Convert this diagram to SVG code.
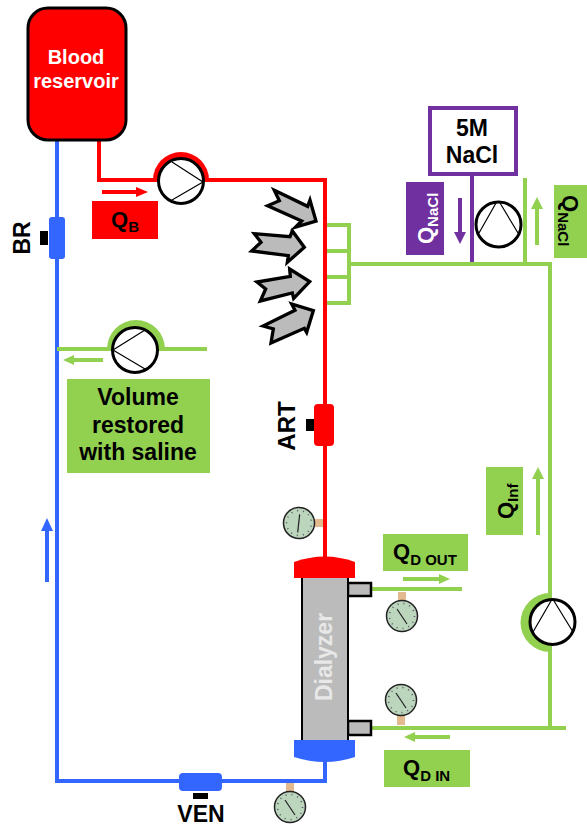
<svg xmlns="http://www.w3.org/2000/svg" width="587" height="827" viewBox="0 0 587 827">
<style>
text{font-family:"Liberation Sans",Arial,sans-serif;font-weight:bold;fill:#000}
.w{fill:#fff}
.c{text-anchor:middle}
.line{fill:none;stroke-linejoin:miter}
.red{stroke:#ff0000;stroke-width:4}
.blue{stroke:#3366ff;stroke-width:4}
.grn{stroke:#92d050;stroke-width:4}
.pur{stroke:#7030a0;stroke-width:4}
.pc{fill:#fff;stroke:#000;stroke-width:3}
.pl{fill:none;stroke:#000;stroke-width:1.2}
.ga{fill:#bcd5bd;stroke:#222;stroke-width:1.5}
.tk{fill:none;stroke:#556;stroke-width:1.5;stroke-dasharray:1 5}
.st{fill:#e3b98e}
.nd{stroke:#222;stroke-width:1.2;fill:none}
.fat{fill:#bbbbbb;stroke:#000;stroke-width:10;stroke-linejoin:miter;stroke-miterlimit:6}
.port{fill:#bbbbbb;stroke:#000;stroke-width:2.5}
.s{font-size:15px}
</style>
<defs>
<g id="gauge"><circle class="ga" r="15.500"/><circle class="tk" r="12.500"/><path class="nd" d="M-5,-7L5,8"/></g>
</defs>
<g id="connectors">
<path class="line blue" d="M57,140V781H325V760"/>
<path class="line grn" d="M325,225H349V303H325M325,251H349M325,277H349M349,264H550V728M370,728H566M525,178V264M57,349H207M371,589H462"/>
<path class="line red" d="M99,141V180H325V560"/>
<path class="line pur" d="M472,174V262"/>
<path class="line red" d="M102,192H136"/><polygon fill="#ff0000" points="148,192 136,187 136,197"/>
<path class="line blue" d="M47,582V530"/><polygon fill="#3366ff" points="47,518 41,531 53,531"/>
<path class="line pur" d="M460,198V232"/><polygon fill="#7030a0" points="460,244 454,232 466,232"/>
<path class="line grn" d="M537,245V208"/><polygon fill="#92d050" points="537,197 531,209 543,209"/>
<path class="line grn" d="M538,535V478"/><polygon fill="#92d050" points="538,467 532,479 544,479"/>
<path class="line grn" d="M103,360H73"/><polygon fill="#92d050" points="63,360 74,355 74,365"/>
<path class="line grn" d="M403,579H440"/><polygon fill="#92d050" points="450,579 439,574 439,584"/>
<path class="line grn" d="M450,737H414"/><polygon fill="#92d050" points="404,737 415,732 415,742"/>
</g>
<g id="reservoir"><rect x="28" y="8" width="98" height="132" rx="20" fill="#ff0000" stroke="#000" stroke-width="3"/>
<text class="w c" x="76" y="64" font-size="20">Blood</text><text class="w c" x="76" y="88" font-size="20">reservoir</text></g>
<g id="pump-qb"><path d="M153,180A28,28 0 0 1 209,180Z" fill="#ff0000"/><circle class="pc" cx="181" cy="181" r="22.500"/><path class="pl" d="M172,162L203,182L172,200"/></g>
<g id="label-qb"><rect x="92" y="201" width="66" height="38" fill="#ff0000"/><text x="111" y="227" font-size="22">Q<tspan class="s" dy="5">B</tspan></text></g>
<g id="valve-br"><rect x="40" y="231" width="8" height="14" fill="#000"/><rect x="49" y="217" width="16" height="42" rx="3" fill="#3366ff"/><text class="c" transform="translate(30,238) rotate(-90)" font-size="23">BR</text></g>
<g id="fat-arrows" transform="translate(245,185) scale(0.3333)">
<polygon class="fat" points="88,16 188,64 195,45 213,108 152,126 170,108 68,62 103,47"/>
<polygon class="fat" points="28,146 48,172 20,198 130,212 127,232 178,187 142,138 135,155"/>
<polygon class="fat" points="36,291 62,312 46,348 142,324 146,340 194,290 134,252 136,274"/>
<polygon class="fat" points="54,423 85,432 78,474 178,430 185,442 205,377 140,357 150,376"/>
</g>
<g id="box-nacl"><rect x="430" y="108" width="86" height="66" fill="#fff" stroke="#7030a0" stroke-width="4"/><text class="c" x="472" y="136" font-size="23">5M</text><text class="c" x="472" y="163" font-size="23">NaCl</text></g>
<g id="label-qnacl-purple"><rect x="406" y="182" width="38" height="73" fill="#7030a0"/><text class="w" transform="translate(433,244) rotate(-90)" font-size="22">Q<tspan class="w s" dy="5">NaCl</tspan></text></g>
<g id="pump-nacl"><circle class="pc" cx="498.500" cy="224.500" r="22.500"/><path class="pl" d="M479,233L496,203M500,203L518,233"/></g>
<g id="label-qnacl-green"><rect x="554" y="185" width="33" height="73" fill="#92d050"/><text transform="translate(563,195) rotate(90)" font-size="22">Q<tspan class="s" dy="5">NaCl</tspan></text></g>
<g id="pump-saline"><path d="M107,349A28,28 0 0 1 165,349Z" fill="#92d050"/><circle class="pc" cx="135" cy="350" r="22.500"/><path class="pl" d="M145,330L113,350L145,369"/></g>
<g id="label-volume"><rect x="67" y="379" width="143" height="94" fill="#92d050"/><text class="c" x="138" y="405" font-size="23">Volume</text><text class="c" x="138" y="433" font-size="23">restored</text><text class="c" x="138" y="460" font-size="23">with saline</text></g>
<g id="valve-art"><rect x="306" y="419" width="8" height="12" fill="#000"/><rect x="314" y="404" width="20" height="42" rx="4" fill="#ff0000"/><text class="c" transform="translate(295,426) rotate(-90)" font-size="24">ART</text></g>
<g id="gauge-art"><rect class="st" x="312" y="519" width="11" height="8"/><use href="#gauge" transform="translate(299,523) rotate(40)"/></g>
<g id="dialyzer"><rect class="port" x="348" y="583" width="23" height="13"/><rect class="port" x="348" y="721" width="23" height="14"/><rect x="302" y="575" width="46" height="166" fill="#bbbbbb" stroke="#000" stroke-width="2"/>
<path d="M294,578V562Q325,551 355,562V578Z" fill="#ff0000"/><path d="M294,740V757Q325,767 355,757V740Z" fill="#3366ff"/>
<text class="c" transform="translate(332,657) rotate(-90)" font-size="23" style="fill:#e8e8e8">Dialyzer</text></g>
<g id="gauge-out"><rect class="st" x="398" y="592" width="8" height="9"/><use href="#gauge" transform="translate(402,616)"/></g>
<g id="gauge-in"><rect class="st" x="397" y="715" width="8" height="10"/><use href="#gauge" transform="translate(401,700)"/></g>
<g id="gauge-ven"><rect class="st" x="286" y="783" width="8" height="9"/><use href="#gauge" transform="translate(290,807)"/></g>
<g id="label-qdout"><rect x="383" y="534" width="85" height="37" fill="#92d050"/><text x="393" y="559" font-size="22">Q<tspan class="s" dy="6">D OUT</tspan></text></g>
<g id="label-qdin"><rect x="384" y="750" width="86" height="37" fill="#92d050"/><text x="403" y="775" font-size="22">Q<tspan class="s" dy="6">D IN</tspan></text></g>
<g id="label-qinf"><rect x="486" y="467" width="37" height="68" fill="#92d050"/><text transform="translate(513,519) rotate(-90)" font-size="22">Q<tspan class="s" dy="5">Inf</tspan></text></g>
<g id="pump-inf"><path d="M550,593A29.500,29.500 0 0 0 550,652Z" fill="#92d050"/><circle class="pc" cx="552.500" cy="622" r="22.500"/><path class="pl" d="M533,632L551,601M554,601L573,632"/></g>
<g id="valve-ven"><rect x="179" y="773" width="43" height="18" rx="4" fill="#3366ff"/><rect x="193" y="793" width="15" height="6" fill="#000"/><text class="c" x="201" y="822" font-size="23">VEN</text></g>
</svg>
